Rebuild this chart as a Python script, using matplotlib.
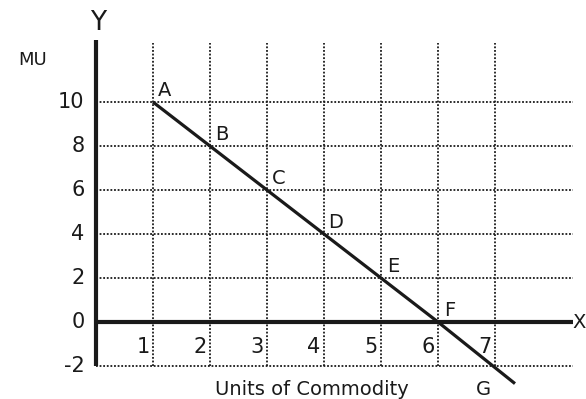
import matplotlib

matplotlib.use("Agg")
import matplotlib.pyplot as plt

# marginal utility schedule
units = [1, 2, 3, 4, 5, 6]
mu = [10, 8, 6, 4, 2, 0]
point_labels = ["A", "B", "C", "D", "E", "F"]
# the curve runs on past F towards G
tail_x = 7.35
tail_y = -2.8

y_ticks = [10, 8, 6, 4, 2, 0, -2]
x_ticks = [1, 2, 3, 4, 5, 6, 7]

plt.rcParams["font.family"] = ["DejaVu Sans"]

fig = plt.figure(figsize=(5.86, 3.99), dpi=100)
ax = fig.add_axes([0, 0, 1, 1])
ax.set_xlim(-1.684, 8.596)
ax.set_ylim(-3.5, 14.64)
ax.set_axis_off()

x_right = 8.37
y_top = 12.8
ink = "#1a1a1a"

# dotted grid
for yv in y_ticks:
    if yv == 0:
        continue
    ax.plot([0, x_right], [yv, yv], color=ink, lw=1.3, linestyle=(0, (1, 1)))
for xv in x_ticks:
    ax.plot([xv, xv], [-2, y_top - 0.1], color=ink, lw=1.3, linestyle=(0, (1, 1)))

# axes
ax.plot([0, 0], [-2, y_top], color=ink, lw=3, solid_capstyle="butt")
ax.plot([0, x_right], [0, 0], color=ink, lw=3, solid_capstyle="butt")

# MU curve
ax.plot(units + [tail_x], mu + [tail_y], color=ink, lw=2.3, solid_capstyle="butt")

for xv, yv, lab in zip(units, mu, point_labels):
    ax.annotate(lab, (xv, yv), xytext=(12, 12), textcoords="offset pixels",
                ha="center", va="center", fontsize=14, color=ink)
ax.text(6.8, -3.08, "G", ha="center", va="center", fontsize=14, color=ink)

for yv in y_ticks:
    ax.text(-0.2, yv, str(yv), ha="right", va="center", fontsize=15, color=ink)
for xv in x_ticks:
    ax.text(xv - 0.06, -1.12, str(xv), ha="right", va="center", fontsize=15, color=ink)

ax.text(-1.12, 11.9, "MU", ha="center", va="center", fontsize=13, color=ink)
ax.text(0.03, 13.6, "Y", ha="center", va="center", fontsize=19, color=ink)
ax.text(8.585, 0, "X", ha="right", va="center", fontsize=14, color=ink)
ax.text(3.78, -3.08, "Units of Commodity", ha="center", va="center",
        fontsize=14, color=ink)

fig.savefig("out.png", dpi=100, facecolor="white")
